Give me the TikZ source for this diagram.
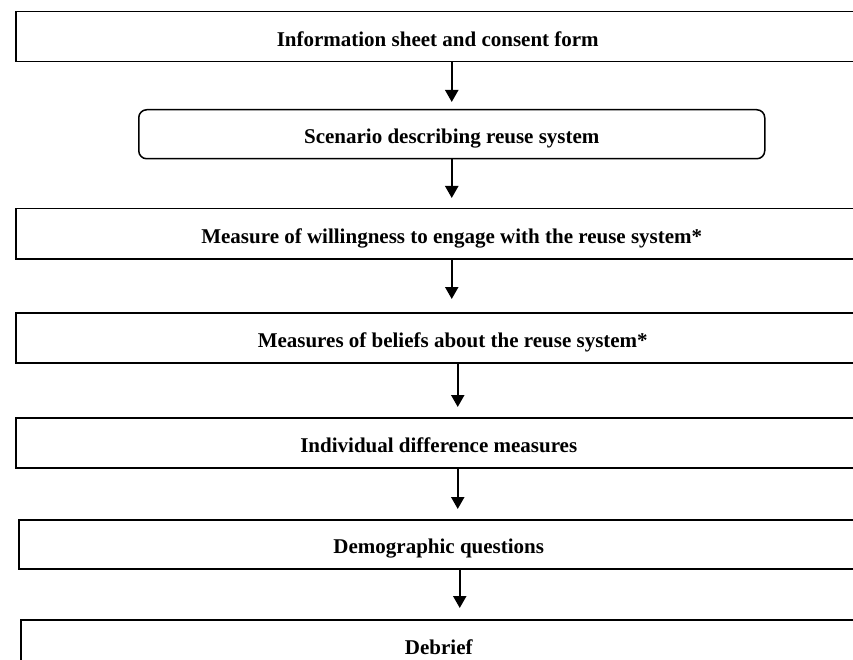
\documentclass[tikz,border=0pt]{standalone}
\usepackage{fontspec}
\setmainfont{Liberation Serif}
\usetikzlibrary{arrows.meta, positioning}

\begin{document}
\begin{tikzpicture}[
    x=1pt, y=-1pt,
    box/.style={draw, line width=1.5pt, anchor=north west, inner sep=0pt, align=center,
        minimum height=50pt, text height=19pt, text depth=0pt,
        font=\bfseries\fontsize{21}{23}\selectfont},
    arrow/.style={-{Triangle[width=13pt, length=12pt]}, line width=2.2pt}
]
    \clip (0,0) rectangle (853,660);
    \node[box, minimum width=844pt] (info) at (15,11) {Information sheet and consent form};
    \node[box, rounded corners=8pt, minimum width=626pt, minimum height=49pt] (scenario) at (138,109) {Scenario describing reuse system};
    \node[box, minimum width=872pt] (willing) at (15,208) {Measure of willingness to engage with the reuse system*};
    \node[box, minimum width=874pt] (beliefs) at (15,312) {Measures of beliefs about the reuse system*};
    \node[box, minimum width=846pt] (indiv) at (15,417) {Individual difference measures};
    \node[box, minimum width=840pt, minimum height=49pt] (demo) at (18,519) {Demographic questions};
    \node[box, minimum width=836pt] (debrief) at (20,619) {Debrief};

    \draw[arrow, shorten >=7pt] (info.south -| scenario.north) -- (scenario.north);
    \draw[arrow, shorten >=10pt] (scenario.south) -- (willing.north);
    \draw[arrow, shorten >=13pt] (willing.south) -- (willing.south |- beliefs.north);
    \draw[arrow, shorten >=10pt] ([xshift=5pt]beliefs.south) -- ([xshift=5pt]beliefs.south |- indiv.north);
    \draw[arrow, shorten >=10pt] ([xshift=19pt]indiv.south) -- ([xshift=19pt]indiv.south |- demo.north);
    \draw[arrow, shorten >=11pt] ([xshift=21pt]demo.south) -- ([xshift=21pt]demo.south |- debrief.north);
\end{tikzpicture}
\end{document}
